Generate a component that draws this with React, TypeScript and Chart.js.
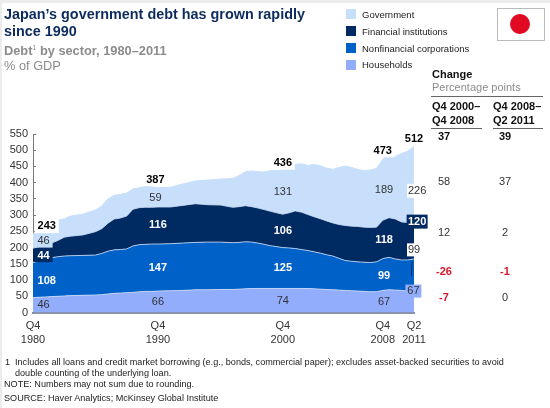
import React, { useEffect, useRef } from "react";
import { Chart, registerables } from "chart.js";

Chart.register(...registerables);

const FONT = "'Liberation Sans', Arial, sans-serif";

const years = [1980.75,1981.25,1981.75,1982.25,1982.75,1983.25,1983.75,1984.75,1985.75,1986.25,1986.75,1987.25,1987.75,1988.25,1988.75,1989.25,1989.75,1990.25,1990.75,1991.75,1992.75,1993.75,1994.75,1995.75,1996.75,1997.25,1997.75,1998.25,1998.75,1999.25,1999.75,2000.25,2000.75,2001.25,2001.75,2002.25,2002.75,2003.25,2003.75,2004.25,2004.75,2005.25,2005.75,2006.25,2006.75,2007.25,2007.75,2008.25,2008.75,2009.25,2009.75,2010.25,2010.75,2011.25];
const households = [46,47,48,49,50,51,52,53,54,55,57,59,60,61,62,64,65,65,66,67,68,70,70,71,71,72,73,74,74,74,74,74,74,74,74,74,74,73,72,71,70,69,68,67,66,65,64,64,68,70,69,68,66,65];
const nonfinancial = [108,111,117,120,122,123,123,123,123,127,132,134,134,135,143,145,145,146,145,145,146,146,147,146,144,144,145,143,140,136,132,129,126,125,123,120,117,114,111,107,104,98,92,91,90,90,90,92,98,100,96,94,96,100];
const financial = [44,45,43,45,50,58,60,63,72,76,86,95,97,101,113,114,114,113,114,113,116,119,115,114,109,110,111,109,108,107,106,104,103,108,116,115,111,108,106,104,102,104,108,108,109,108,108,107,118,122,123,117,115,114];
const government = [45,52,57,63,62,57,62,64,67,70,75,73,73,71,63,61,64,63,59,61,66,70,76,80,89,96,105,110,112,116,125,130,136,140,144,149,151,161,163,163,165,176,183,181,176,174,177,181,188,198,193,211,220,232];

const yTicks = [0,50,100,150,200,250,300,350,400,450,500,550];
const xTickYears = [1980.75,1990.75,2000.75,2008.75,2011.25];
const xTickLabels = [["Q4","1980"],["Q4","1990"],["Q4","2000"],["Q4","2008"],["Q2","2011"]];

const sectorNames = ["Government","Financial institutions","Nonfinancial corporations","Households"];
const sectorColors = ["#c7dffb","#002a62","#0062c9","#91adfc"];

const changeHeader = ["Q4 2000–\nQ4 2008","Q4 2008–\nQ2 2011"];
const changeA = ["37","58","12","-26","-7"];
const changeB = ["39","37","2","-1","0"];
const rowY = [137,182,233,272,298];

type L = { t: string; x: number; v: number; c: string; b?: boolean; bg?: string; w?: number; h?: number };
const chartLabels: L[] = [
  { t: "243", x: 1981.85, v: 266, c: "#000", b: true, bg: "#fff", w: 24, h: 14 },
  { t: "46", x: 1981.6, v: 220, c: "#333", bg: "#c7dffb", w: 18, h: 13 },
  { t: "44", x: 1981.6, v: 175, c: "#fff", b: true, bg: "#002a62", w: 18, h: 13 },
  { t: "108", x: 1981.85, v: 97, c: "#fff", b: true },
  { t: "46", x: 1981.6, v: 23, c: "#333" },
  { t: "387", x: 1990.55, v: 408, c: "#000", b: true },
  { t: "59", x: 1990.55, v: 352, c: "#333" },
  { t: "116", x: 1990.75, v: 269, c: "#fff", b: true },
  { t: "147", x: 1990.75, v: 137, c: "#fff", b: true },
  { t: "66", x: 1990.75, v: 32, c: "#333" },
  { t: "436", x: 2000.75, v: 460, c: "#000", b: true, bg: "#fff", w: 24, h: 13 },
  { t: "131", x: 2000.75, v: 370, c: "#333" },
  { t: "106", x: 2000.75, v: 251, c: "#fff", b: true },
  { t: "125", x: 2000.75, v: 136, c: "#fff", b: true },
  { t: "74", x: 2000.75, v: 36, c: "#333" },
  { t: "473", x: 2008.75, v: 498, c: "#000", b: true, bg: "#fff", w: 24, h: 13 },
  { t: "189", x: 2008.85, v: 377, c: "#333" },
  { t: "118", x: 2008.85, v: 223, c: "#fff", b: true },
  { t: "99", x: 2008.85, v: 114, c: "#fff", b: true },
  { t: "67", x: 2008.85, v: 32, c: "#333" },
  { t: "512", x: 2011.25, v: 535, c: "#000", b: true },
  { t: "226", x: 2011.5, v: 375, c: "#333", bg: "#fff", w: 20, h: 14 },
  { t: "120", x: 2011.5, v: 280, c: "#fff", b: true, bg: "#002a62", w: 21, h: 14 },
  { t: "99", x: 2011.25, v: 193, c: "#333", bg: "#fff", w: 14, h: 13 },
  { t: "67", x: 2011.2, v: 66, c: "#333", bg: "#91adfc", w: 16, h: 13 },
];

const labelPlugin = {
  id: "labels",
  afterDatasetsDraw(chart: any) {
    const { ctx, scales } = chart;
    ctx.save();
    ctx.strokeStyle = "#002a62";
    ctx.lineWidth = 1;
    ctx.beginPath();
    ctx.moveTo(scales.x.getPixelForValue(2011.1), scales.y.getPixelForValue(157));
    ctx.lineTo(scales.x.getPixelForValue(2011.05), scales.y.getPixelForValue(113));
    ctx.stroke();
    ctx.textAlign = "center";
    ctx.textBaseline = "middle";
    for (const l of chartLabels) {
      const px = scales.x.getPixelForValue(l.x);
      const py = scales.y.getPixelForValue(l.v);
      if (l.bg) {
        ctx.fillStyle = l.bg;
        ctx.fillRect(px - l.w! / 2, py - l.h! / 2, l.w!, l.h!);
      }
      ctx.fillStyle = l.c;
      ctx.font = `${l.b ? "bold " : ""}11px ${FONT}`;
      ctx.fillText(l.t, px, py);
    }
    ctx.restore();
  },
};

function Txt({ x, y, children, style }: any) {
  return (
    <div style={{ position: "absolute", left: x, top: y, transform: "translateY(-50%)", whiteSpace: "pre", lineHeight: 1.2, ...style }}>
      {children}
    </div>
  );
}

export default function App() {
  const ref = useRef<HTMLCanvasElement>(null);
  useEffect(() => {
    const mk = (label: string, vals: number[], i: number, fill: any, line: boolean) => ({
      label,
      data: years.map((x, k) => ({ x, y: vals[k] })),
      backgroundColor: sectorColors[i],
      borderColor: line ? "rgba(205,220,245,0.8)" : sectorColors[i],
      borderWidth: 1,
      pointRadius: 0,
      fill,
      tension: 0,
    });
    const chart = new Chart(ref.current!, {
      type: "line",
      data: {
        datasets: [
          mk(sectorNames[3], households, 3, "origin", true),
          mk(sectorNames[2], nonfinancial, 2, "-1", true),
          mk(sectorNames[1], financial, 1, "-1", true),
          mk(sectorNames[0], government, 0, "-1", false),
        ],
      },
      options: {
        animation: false,
        responsive: false,
        layout: { padding: { left: 0, right: 136, top: 134, bottom: 0 } },
        plugins: { legend: { display: false }, tooltip: { enabled: false } },
        scales: {
          x: {
            type: "linear",
            min: 1980.75,
            max: 2011.25,
            afterBuildTicks: (s: any) => { s.ticks = xTickYears.map((value) => ({ value })); },
            afterFit: (s: any) => { s.height = 95.5; },
            grid: { drawOnChartArea: false, drawTicks: false },
            border: { color: "#8a94a8", width: 2 },
            ticks: {
              autoSkip: false,
              maxRotation: 0,
              padding: 7,
              color: "#333",
              font: { family: FONT, size: 11, lineHeight: 1.25 },
              callback: (v: any) => xTickLabels[xTickYears.indexOf(Number(v))] ?? "",
            },
          },
          y: {
            stacked: true,
            min: 0,
            max: 550,
            afterBuildTicks: (s: any) => { s.ticks = yTicks.map((value) => ({ value })); },
            afterFit: (s: any) => { s.width = 33; },
            grid: { drawOnChartArea: false, tickLength: -3, color: "#777" },
            border: { color: "#777", width: 1 },
            ticks: { padding: 8, color: "#333", font: { family: FONT, size: 11 } },
          },
        },
      },
      plugins: [labelPlugin],
    } as any);
    return () => chart.destroy();
  }, []);

  return (
    <div style={{ position: "absolute", left: 0, top: 0, width: 550, height: 408, background: "#ececec", overflow: "hidden", fontFamily: FONT }}>
      <div style={{ position: "absolute", left: 2, top: 3, width: 548, height: 405, background: "#fff" }} />
      <canvas ref={ref} width={550} height={408} style={{ position: "absolute", left: 0, top: 0, display: "block" }} />

      <Txt x={4} y={15} style={{ fontSize: 14.4, fontWeight: "bold", color: "#0d2b5e" }}>Japan’s government debt has grown rapidly</Txt>
      <Txt x={4} y={32} style={{ fontSize: 14.4, fontWeight: "bold", color: "#0d2b5e" }}>since 1990</Txt>
      <Txt x={4} y={51} style={{ fontSize: 12.8, fontWeight: "bold", color: "#8c8c8c" }}>Debt<sup style={{ fontSize: 7, fontWeight: "normal", lineHeight: 0 }}>1</sup> by sector, 1980–2011</Txt>
      <Txt x={4} y={66} style={{ fontSize: 12.8, color: "#8c8c8c" }}>% of GDP</Txt>

      {sectorNames.map((n, i) => (
        <React.Fragment key={n}>
          <div style={{ position: "absolute", left: 346, top: [9, 26, 43, 60][i], width: 10, height: 10, background: sectorColors[i] }} />
          <Txt x={362} y={[15, 32, 48.5, 65][i]} style={{ fontSize: 9.5, color: "#222" }}>{n}</Txt>
        </React.Fragment>
      ))}

      <div style={{ position: "absolute", left: 497, top: 8, width: 46, height: 31, border: "1px solid #bbb", background: "#fff" }} />
      <div style={{ position: "absolute", left: 510, top: 14, width: 20, height: 20, borderRadius: "50%", background: "#e00b23" }} />

      <Txt x={432} y={74.5} style={{ fontSize: 11, fontWeight: "bold", color: "#111" }}>Change</Txt>
      <Txt x={432} y={88} style={{ fontSize: 11, color: "#8c8c8c" }}>Percentage points</Txt>
      <div style={{ position: "absolute", left: 431, top: 96, width: 112, height: 1, background: "#666" }} />
      <Txt x={432} y={113} style={{ fontSize: 11, fontWeight: "bold", color: "#111", lineHeight: "13.5px" }}>{changeHeader[0]}</Txt>
      <Txt x={493} y={113} style={{ fontSize: 11, fontWeight: "bold", color: "#111", lineHeight: "13.5px" }}>{changeHeader[1]}</Txt>
      <div style={{ position: "absolute", left: 431, top: 128, width: 51, height: 1, background: "#666" }} />
      <div style={{ position: "absolute", left: 493, top: 128, width: 50, height: 1, background: "#666" }} />

      {rowY.map((y, i) => {
        const cell = (t: string, cx: number) => {
          const neg = t.startsWith("-");
          return (
            <Txt key={cx} x={cx - 20} y={y} style={{ width: 40, textAlign: "center", fontSize: 11, fontWeight: i === 0 || neg ? "bold" : "normal", color: neg ? "#d8182a" : i === 0 ? "#111" : "#333" }}>{t}</Txt>
          );
        };
        return <React.Fragment key={y}>{cell(changeA[i], 444)}{cell(changeB[i], 505)}</React.Fragment>;
      })}

      <Txt x={5} y={361.5} style={{ fontSize: 9.1, color: "#222" }}>1</Txt>
      <Txt x={15} y={361.5} style={{ fontSize: 9.1, color: "#222" }}>Includes all loans and credit market borrowing (e.g., bonds, commercial paper); excludes asset-backed securities to avoid</Txt>
      <Txt x={15} y={372.5} style={{ fontSize: 9.1, color: "#222" }}>double counting of the underlying loan.</Txt>
      <Txt x={4} y={384} style={{ fontSize: 9.1, color: "#222" }}>NOTE: Numbers may not sum due to rounding.</Txt>
      <Txt x={4} y={398} style={{ fontSize: 9.1, color: "#222" }}>SOURCE: Haver Analytics; McKinsey Global Institute</Txt>
    </div>
  );
}
